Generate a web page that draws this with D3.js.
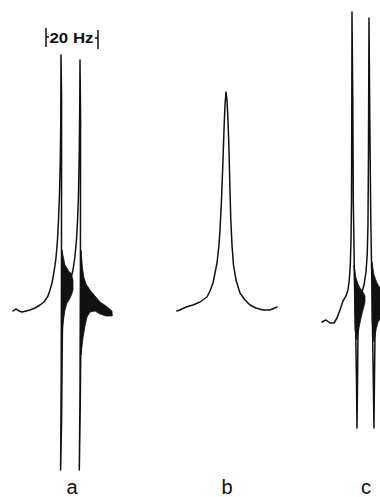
<!DOCTYPE html>
<html>
<head>
<meta charset="utf-8">
<script src="https://cdn.jsdelivr.net/npm/d3@7"></script>
<style>
  html, body { margin: 0; padding: 0; background: #fff; }
  svg { display: block; }
</style>
</head>
<body>
<div id="chart"></div>
<script>
// spectra a, b, c: offsets in Hz from each panel's first line, intensity in arbitrary units (0 = baseline)
const panels = ['a', 'b', 'c'];
const panelOrigin = [23.46, 86.92, 135.38]; // Hz position of each panel's reference line

const traceA = [
  [-18.46, -0.33], [-17.31, 0.33], [-16.15, -0.33], [-15.0, -0.67], [-13.46, -0.33], [-11.92, 0],
  [-10.0, 0.67], [-8.08, 1.67], [-6.54, 2.67], [-5.0, 4.67], [-4.23, 6.67], [-3.46, 9.0],
  [-2.69, 12.67], [-1.92, 17.33], [-1.35, 23.33], [-0.96, 30], [-0.58, 38.33], [-0.27, 50],
  [-0.08, 63.33], [0, 85],
  [0.23, 70], [0.19, 20], [0.08, -23.33], [-0.15, -53.33],
  [0.23, -36.67], [0.5, -10], [0.77, 6.67],
  [1.92, 9.33], [3.46, 9.33], [4.62, 13.33], [5.38, 18], [5.96, 23.33], [6.38, 30],
  [6.73, 38.33], [7.04, 53.33], [7.23, 70], [7.31, 83.33],
  [7.54, 63.33], [7.46, 10], [7.31, -26.67], [7.04, -53.33],
  [7.38, -33.33], [7.69, -6.67], [8.08, 6.67], [8.46, 10.67], [9.23, 8.33], [10.38, 6],
  [11.92, 4], [13.85, 2], [15.77, 0.33], [17.69, -0.67], [19.62, -1.67]
];
const ringA = [
  [[0.38, 20], [0.96, 17.33], [1.54, 15], [2.31, 14], [3.08, 12.67], [3.85, 12.33], [4.62, 10],
   [4.62, 6.67], [3.85, 4.67], [3.08, 3.33], [2.31, 2.33], [1.54, 0], [0.96, -3.33], [0.38, -8.33]],
  [[7.69, 20], [8.27, 14], [8.85, 10.67], [9.62, 8.67], [11.15, 6.67], [13.08, 4.67], [15, 2.67],
   [17.31, 1.33], [19.62, -0.33],
   [19.62, -2.0], [17.31, -2.0], [15, -1.33], [13.08, -0.33], [11.15, -0.67], [10, -2.33],
   [9.23, -5.33], [8.46, -9.33], [7.69, -15]]
];

const traceB = [
  [-18.85, -0.33], [-17.69, 0], [-15.38, 1], [-12.69, 1.67], [-10, 2.67], [-7.31, 4.33],
  [-6.15, 6.33], [-5, 9], [-4.23, 12.33], [-3.46, 15.67], [-2.69, 21.67], [-2.31, 26.67],
  [-1.73, 36.67], [-1.15, 50], [-0.77, 60], [-0.38, 68.33], [0, 72.67], [0.38, 70],
  [0.77, 63.33], [1.15, 53.33], [1.54, 40], [1.85, 30], [2.31, 21.67], [2.88, 15],
  [3.85, 10], [5.38, 5.67], [7.31, 3.33], [9.23, 1.67], [11.54, 0.67], [14.23, 0],
  [16.92, 0], [19.62, 1]
];
const ringB = [];

const traceC = [
  [-11.54, -4], [-10, -3.33], [-8.46, -4.33], [-6.92, -4.33], [-5.77, -2.67], [-4.62, 0],
  [-3.46, 3], [-2.31, 4.67], [-1.54, 6.67], [-1.04, 10], [-0.65, 15], [-0.38, 23.33],
  [-0.19, 36.67], [-0.08, 63.33], [0, 99.33],
  [0.31, 70], [0.5, 36.67], [0.88, 15], [1.35, -3.33], [1.73, -23.33], [1.92, -39.33],
  [2.15, -23.33], [2.31, -6.67], [2.69, 3.33], [3.85, 6], [4.62, 8.33], [5.38, 12.67],
  [5.85, 18.33], [6.15, 28.33], [6.35, 53.33], [6.54, 97.33],
  [6.85, 63.33], [7.23, 30], [7.69, 6.67], [8.08, -16.67], [8.46, -39.33],
  [8.69, -20], [8.92, -3.33], [9.62, 4], [10.77, 3.33], [11.92, 2.33]
];
const ringC = [
  [[0.77, 15], [1.54, 10.67], [2.31, 8.67], [3.08, 7.33], [4.23, 6], [5, 4.67],
   [5, 2.67], [4.23, 0], [3.46, -2.67], [2.69, -6], [1.92, -10], [1.15, -6.67]],
  [[7.69, 16], [8.46, 11.67], [9.62, 9], [11.15, 6.67],
   [11.15, -2.67], [10, -4], [9.23, -6.67], [8.46, -10.67], [7.69, -3.33]]
];

const traces = [traceA, traceB, traceC];
const rings = [ringA, ringB, ringC];

const scaleBarStart = 17.69; // Hz
const scaleBarWidth = 20;    // Hz
const scaleBarLabel = '20 Hz';

const width = 380, height = 497;

const svg = d3.select('#chart').append('svg')
  .attr('width', width)
  .attr('height', height);

const x = d3.scaleLinear().domain([0, width / 2.6]).range([0, width]);
const y = d3.scaleLinear().domain([-60, 100]).range([490, 10]);

const line = d3.line()
  .x(d => x(d[0]))
  .y(d => y(d[1]));

panels.forEach((name, i) => {
  const g = svg.append('g');
  const shift = d => [d[0] + panelOrigin[i], d[1]];

  // ringing after the sharp lines, drawn as filled bands
  rings[i].forEach(r => {
    g.append('path')
      .attr('d', line(r.map(shift)) + 'Z')
      .attr('fill', '#111')
      .attr('stroke', '#111')
      .attr('stroke-width', 0.8)
      .attr('stroke-linejoin', 'round');
  });

  g.append('path')
    .attr('d', line(traces[i].map(shift)))
    .attr('fill', 'none')
    .attr('stroke', '#111')
    .attr('stroke-width', 1.5)
    .attr('stroke-linejoin', 'round')
    .attr('stroke-linecap', 'round');

  g.append('text')
    .attr('x', x(panelOrigin[i]) + (i === 0 ? 11 : i === 2 ? 14 : 1))
    .attr('y', 494)
    .attr('text-anchor', 'middle')
    .style('font-family', 'Liberation Sans, Arial, sans-serif')
    .style('font-size', '20px')
    .style('fill', '#111')
    .text(name);
});

// scale bar |-20 Hz-|
const sb = svg.append('g').attr('stroke', '#111').attr('stroke-width', 1.5);
const x0 = x(scaleBarStart), x1 = x(scaleBarStart + scaleBarWidth);
sb.append('line').attr('x1', x0).attr('x2', x0).attr('y1', 28).attr('y2', 47);
sb.append('line').attr('x1', x1).attr('x2', x1).attr('y1', 30).attr('y2', 49);
sb.append('line').attr('x1', x0).attr('x2', x0 + 3).attr('y1', 37).attr('y2', 37);
sb.append('line').attr('x1', x1 - 3).attr('x2', x1).attr('y1', 38).attr('y2', 38);

svg.append('text')
  .attr('x', (x0 + x1) / 2 - 0.5)
  .attr('y', 43)
  .attr('text-anchor', 'middle')
  .attr('textLength', 44)
  .attr('lengthAdjust', 'spacingAndGlyphs')
  .style('font-family', 'Liberation Sans, Arial, sans-serif')
  .style('font-size', '15px')
  .style('font-weight', 'bold')
  .style('fill', '#111')
  .text(scaleBarLabel);
</script>
</body>
</html>
